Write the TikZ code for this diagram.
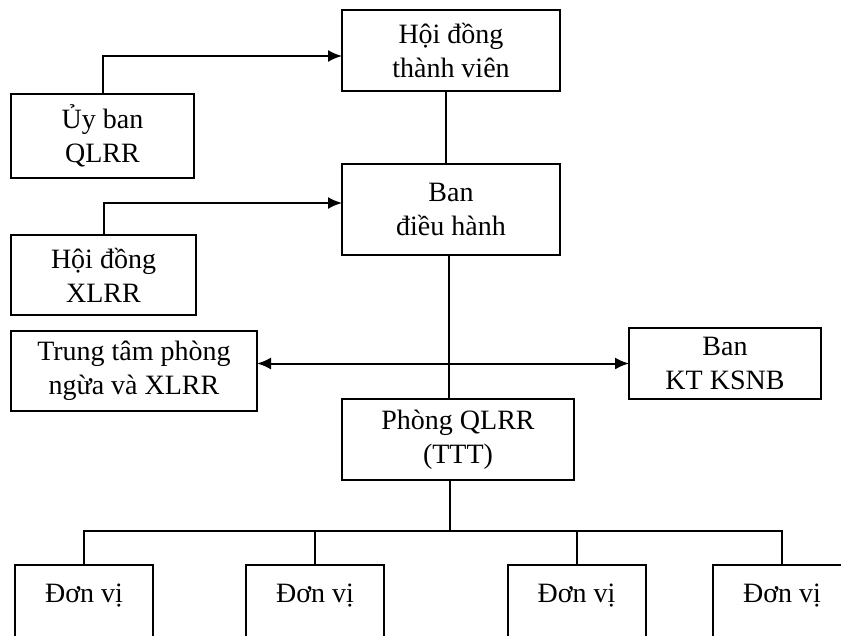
\documentclass[tikz,border=0pt]{standalone}
\usepackage{fontspec}
\setmainfont{Liberation Serif}
\usetikzlibrary{arrows.meta}

\begin{document}
\begin{tikzpicture}[x=1pt, y=-1pt,
  every node/.style={draw, line width=2pt, align=center, inner sep=0pt, outer sep=0pt, font=\fontsize{28}{34}\selectfont},
  unitbox/.style={minimum width=138pt, text height=19pt, text depth=110pt, inner ysep=18pt, anchor=north},
  link/.style={line width=2pt},
  arr/.style={link, -{Latex[length=14pt,width=12pt]}},
  arrboth/.style={link, {Latex[length=14pt,width=12pt]}-{Latex[length=14pt,width=12pt]}}]
\useasboundingbox (0,0) rectangle (841,635);
\clip (0,0) rectangle (841,635);

\node[minimum width=218pt, minimum height=81pt] (hdtv) at (451,50.5) {Hội đồng\\thành viên};
\node[minimum width=183pt, minimum height=84pt] (uyban) at (102.5,136) {Ủy ban\\QLRR};
\node[minimum width=218pt, minimum height=91pt] (bdh) at (451,209.5) {Ban\\điều hành};
\node[minimum width=185pt, minimum height=80pt] (hdxl) at (103.5,275) {Hội đồng\\XLRR};
\node[minimum width=246pt, minimum height=80pt] (ttpn) at (134,371) {Trung tâm phòng\\ngừa và XLRR};
\node[minimum width=192pt, minimum height=71pt] (bankt) at (725,363.5) {Ban\\KT KSNB};
\node[minimum width=232pt, minimum height=81pt] (pqlrr) at (458,439.5) {Phòng QLRR\\(TTT)};

\node[unitbox] (dv1) at (84,565) {Đơn vị};
\node[unitbox] (dv2) at (315,565) {Đơn vị};
\node[unitbox] (dv3) at (576.5,565) {Đơn vị};
\node[unitbox] (dv4) at (782,565) {Đơn vị};
\coordinate (bus) at (450,531);

\draw[arr] (uyban.north) |- ([yshift=-5.5pt]hdtv.west);
\draw[arr] (hdxl.north) |- ([yshift=6.5pt]bdh.west);
\draw[link] ([xshift=-5pt]hdtv.south) -- ([xshift=-5pt]bdh.north);
\draw[link] ([xshift=-2pt]bdh.south) -- ([xshift=-2pt]bdh.south |- pqlrr.north);
\draw[arrboth] (bankt.west -| ttpn.east) -- (bankt.west);
\draw[link] (bus |- pqlrr.south) -- (bus);
\draw[link] (dv1.north) -- (dv1.north |- bus) -- (dv4.north |- bus) -- (dv4.north);
\draw[link] (dv2.north) -- (dv2.north |- bus);
\draw[link] (dv3.north) -- (dv3.north |- bus);
\end{tikzpicture}
\end{document}
